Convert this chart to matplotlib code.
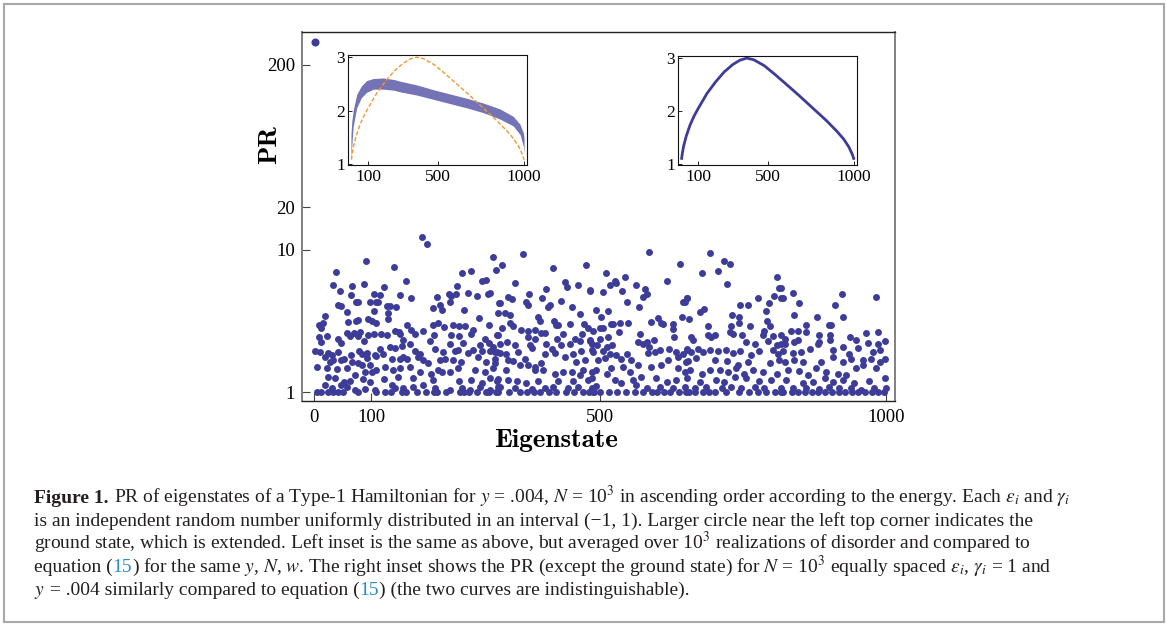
import matplotlib
matplotlib.use('Agg')
import matplotlib.pyplot as plt
from matplotlib.patches import Rectangle

plt.rcParams['font.family'] = ['Liberation Serif', 'DejaVu Serif']
plt.rcParams['mathtext.fontset'] = 'stix'

# ---------------- data ----------------
ground_state = (2, 290.0)

# (eigenstate index, PR)
states = [
    # 0 - 160
    (38, 6.93), (33, 5.69), (45, 5.14), (67, 5.6), (88, 5.73), (91, 8.4), (122, 5.51), (140, 7.57),
    (104, 4.90), (115, 4.84), (150, 4.80), (65, 4.82), (73, 4.29), (76, 4.29), (97, 4.33), (108, 4.31),
    (112, 4.29), (42, 4.10), (47, 4.02), (128, 4.02), (133, 4.04), (144, 3.97), (57, 3.65), (105, 3.71),
    (130, 3.61), (19, 3.40), (8, 2.97), (15, 3.05), (13, 2.82), (59, 3.10), (74, 3.14), (77, 3.22),
    (95, 3.27), (101, 3.17), (109, 3.07), (129, 3.27), (8, 2.43), (12, 2.25), (23, 2.49), (42, 2.37),
    (47, 2.21), (57, 2.60), (62, 2.49), (69, 2.60), (76, 2.47), (80, 2.64), (87, 2.29), (94, 2.51),
    (105, 2.56), (117, 2.55), (127, 2.51), (141, 2.67), (148, 2.64), (2, 1.94), (10, 1.91), (25, 1.88),
    (31, 1.83), (42, 1.91), (53, 1.72), (65, 1.82), (79, 1.95), (83, 1.85), (93, 1.88), (106, 1.82),
    (115, 2.0), (121, 1.86), (133, 2.07), (141, 2.05), (153, 2.11), (19, 1.77), (28, 1.63), (34, 1.67),
    (48, 1.67), (66, 1.63), (76, 1.61), (92, 1.74), (98, 1.56), (109, 1.79), (136, 1.72), (150, 1.70),
    (5, 1.50), (23, 1.47), (40, 1.45), (57, 1.47), (83, 1.55), (89, 1.39), (101, 1.39), (109, 1.42),
    (124, 1.50), (138, 1.43), (150, 1.47), (25, 1.28), (37, 1.26), (53, 1.18), (63, 1.19), (72, 1.32),
    (86, 1.23), (98, 1.18), (122, 1.23), (136, 1.12), (147, 1.28), (20, 1.12), (31, 1.06), (48, 1.12),
    (57, 1.09), (72, 1.03), (89, 1.05), (106, 1.04), (141, 1.06),
    (5, 1.0), (13, 1.0), (25, 1.0), (34, 1.0), (42, 1.0), (51, 1.0), (77, 1.0), (109, 1.0), (124, 1.0),
    (134, 1.0), (153, 1.0),
    # 150 - 325
    (188, 12.4), (198, 11.0), (312, 8.97), (161, 6.0), (258, 6.87), (275, 7.05), (293, 6.07), (300, 6.13),
    (318, 7.2), (250, 5.6), (236, 4.92), (240, 4.76), (248, 4.9), (214, 4.65), (170, 4.57), (269, 4.95),
    (285, 4.74), (304, 4.9), (307, 4.98), (220, 4.1), (207, 3.93), (224, 3.8), (237, 4.33), (262, 3.78),
    (289, 3.31), (323, 4.22), (162, 2.97), (169, 2.75), (176, 2.57), (191, 2.67), (208, 2.97), (217, 3.07),
    (227, 2.86), (242, 2.97), (254, 2.91), (264, 2.9), (278, 2.75), (305, 2.94), (150, 2.57), (155, 2.31),
    (210, 2.53), (240, 2.51), (254, 2.48), (274, 2.55), (298, 2.35), (202, 2.28), (319, 2.53), (168, 2.19),
    (237, 2.19), (261, 2.22), (290, 2.13), (306, 2.22), (313, 2.07), (176, 1.94), (185, 1.86), (211, 2.02),
    (226, 1.91), (246, 1.94), (252, 1.97), (269, 1.89), (278, 1.97), (294, 1.94), (307, 1.94), (319, 1.91),
    (155, 1.77), (162, 1.72), (182, 1.77), (191, 1.69), (200, 1.61), (220, 1.67), (229, 1.72), (243, 1.67),
    (257, 1.63), (287, 1.77), (300, 1.63), (316, 1.72), (168, 1.50), (185, 1.39), (217, 1.43),
    (237, 1.39), (252, 1.47), (281, 1.43), (298, 1.39), (313, 1.47), (205, 1.35), (173, 1.25), (208, 1.21),
    (223, 1.38), (254, 1.19), (275, 1.21), (293, 1.15), (307, 1.26), (322, 1.24), (156, 1.06), (173, 1.09),
    (191, 1.12), (211, 1.06), (237, 1.03), (258, 1.07), (272, 1.04), (290, 1.09), (307, 1.03), (322, 1.09),
    (160, 1.0), (180, 1.0), (195, 1.0), (210, 1.0), (215, 1.0), (230, 1.0), (255, 1.0), (262, 1.0),
    (270, 1.0), (285, 1.0), (300, 1.0), (305, 1.0), (318, 1.0),
    # 315 - 490
    (365, 9.38), (417, 7.45), (476, 7.76), (329, 7.76), (351, 5.82), (406, 5.31), (438, 5.97),
    (442, 5.51), (461, 5.66), (482, 5.22), (376, 4.9), (339, 4.65), (346, 4.52), (399, 4.57), (431, 4.4),
    (371, 4.33), (325, 4.22), (373, 4.06), (409, 3.95), (413, 4.06), (451, 3.99), (322, 3.59), (334, 3.61),
    (343, 3.49), (464, 3.51), (392, 3.37), (394, 3.18), (419, 3.18), (426, 2.97), (447, 2.99), (472, 2.99),
    (479, 2.83), (342, 3.05), (347, 2.9), (362, 2.74), (373, 2.67), (386, 2.72), (397, 2.61), (403, 2.61),
    (422, 2.97), (435, 2.57), (328, 2.82), (321, 2.53), (374, 2.44), (386, 2.37), (425, 2.37), (456, 2.37),
    (468, 2.57), (482, 2.31), (338, 2.25), (351, 2.13), (325, 2.19), (377, 2.13), (406, 2.16), (416, 2.02),
    (431, 2.13), (447, 2.19), (464, 2.27), (485, 2.19), (316, 1.91), (325, 1.88), (335, 1.86), (357, 1.91),
    (380, 2.05), (403, 1.86), (421, 1.88), (453, 1.86), (466, 1.94), (485, 1.97), (339, 1.69), (348, 1.65),
    (368, 1.72), (386, 1.5), (397, 1.61), (438, 1.77), (458, 1.63), (473, 1.67), (374, 1.56), (360, 1.55),
    (316, 1.61), (336, 1.43), (386, 1.43), (400, 1.43), (421, 1.35), (435, 1.39), (450, 1.39), (470, 1.43),
    (485, 1.39), (319, 1.2), (339, 1.21), (354, 1.19), (371, 1.15), (392, 1.19), (426, 1.19), (453, 1.2),
    (464, 1.32), (479, 1.21), (325, 1.09), (351, 1.06), (380, 1.05), (403, 1.07), (418, 1.09), (444, 1.06),
    (461, 1.09), (485, 1.07),
    (322, 1.0), (340, 1.0), (360, 1.0), (372, 1.0), (385, 1.0), (395, 1.0), (410, 1.0), (423, 1.0),
    (440, 1.0), (455, 1.0), (470, 1.0), (480, 1.0), (488, 1.0),
    # 480 - 655
    (585, 9.58), (639, 7.98), (510, 6.9), (543, 6.4), (525, 6.07), (528, 5.8), (517, 5.66), (563, 5.66),
    (579, 5.31), (616, 6.07), (482, 5.16), (504, 5.03), (538, 5.1), (581, 4.9), (575, 4.65), (547, 4.29),
    (567, 3.97), (645, 4.29), (652, 4.57), (492, 3.8), (513, 3.74), (501, 3.37), (601, 3.31), (606, 3.07),
    (610, 3.02), (643, 3.38), (518, 3.02), (523, 2.99), (534, 3.05), (549, 3.05), (588, 3.1), (627, 2.99),
    (627, 2.79), (505, 2.82), (499, 2.82), (488, 2.67), (533, 2.64), (569, 2.57), (629, 2.44), (499, 2.37),
    (514, 2.44), (482, 2.28), (566, 2.25), (575, 2.19), (581, 2.25), (594, 2.31), (520, 2.15), (511, 2.07),
    (495, 2.13), (586, 2.07), (620, 2.02), (651, 2.02), (584, 1.89), (595, 1.92), (604, 1.97), (488, 1.91),
    (505, 1.94), (517, 1.86), (528, 1.83), (546, 1.86), (633, 1.91), (645, 1.86), (496, 1.67), (508, 1.74),
    (537, 1.72), (554, 1.67), (619, 1.67), (636, 1.77), (650, 1.63), (493, 1.43), (519, 1.47), (540, 1.5),
    (552, 1.39), (566, 1.55), (589, 1.5), (607, 1.55), (636, 1.47), (648, 1.39), (485, 1.25), (511, 1.34),
    (525, 1.21), (557, 1.21), (572, 1.28), (598, 1.25), (616, 1.18), (633, 1.21), (493, 1.1), (537, 1.15),
    (563, 1.12), (581, 1.06), (604, 1.09), (627, 1.07), (648, 1.09),
    (490, 1.0), (500, 1.0), (515, 1.0), (530, 1.0), (545, 1.0), (560, 1.0), (575, 1.0), (590, 1.0),
    (600, 1.0), (612, 1.0), (622, 1.0), (638, 1.0), (650, 1.0),
    # 645 - 820
    (691, 9.5), (716, 8.37), (727, 7.94), (706, 7.13), (677, 6.82), (722, 5.75), (809, 6.47), (812, 5.37),
    (652, 4.57), (648, 4.33), (776, 4.59), (803, 4.72), (816, 4.59), (795, 4.22), (758, 4.12), (745, 4.06),
    (682, 3.85), (674, 3.65), (790, 3.72), (655, 3.27), (730, 3.46), (742, 3.37), (792, 3.14), (689, 2.9),
    (729, 2.9), (761, 2.91), (796, 2.9), (742, 3.05), (787, 2.67), (726, 2.64), (732, 2.57), (694, 2.44),
    (700, 2.51), (688, 2.51), (747, 2.51), (659, 2.44), (784, 2.51), (802, 2.46), (816, 2.53), (662, 2.31),
    (755, 2.25), (770, 2.19), (793, 2.27), (808, 2.13), (822, 2.19), (651, 1.97), (659, 1.91), (671, 2.0),
    (679, 1.91), (691, 1.97), (706, 1.94), (720, 1.97), (732, 1.89), (744, 1.94), (764, 1.82), (778, 1.94),
    (802, 1.97), (810, 1.86), (653, 1.65), (668, 1.74), (700, 1.67), (722, 1.65), (741, 1.55), (758, 1.63),
    (796, 1.6), (813, 1.67), (656, 1.43), (677, 1.35), (691, 1.43), (709, 1.43), (723, 1.39), (738, 1.47),
    (752, 1.35), (767, 1.43), (784, 1.39), (808, 1.35), (651, 1.25), (674, 1.18), (703, 1.21), (717, 1.18),
    (735, 1.28), (755, 1.25), (778, 1.19), (799, 1.21), (665, 1.06), (685, 1.09), (712, 1.06), (729, 1.09),
    (746, 1.06), (770, 1.09), (787, 1.06), (816, 1.07),
    (655, 1.0), (665, 1.0), (680, 1.0), (690, 1.0), (700, 1.0), (720, 1.0), (742, 1.0), (760, 1.0),
    (775, 1.0), (790, 1.0), (805, 1.0), (815, 1.0),
    # 815 - 1000
    (837, 4.95), (816, 5.37), (819, 4.6), (922, 4.9), (982, 4.69), (848, 4.22), (911, 4.1), (839, 3.46),
    (879, 3.37), (924, 3.37), (860, 2.97), (900, 2.97), (903, 2.94), (834, 2.67), (845, 2.67), (859, 2.64),
    (883, 2.51), (901, 2.53), (937, 2.44), (965, 2.62), (986, 2.64), (822, 2.37), (839, 2.25), (845, 2.31),
    (883, 2.25), (901, 2.31), (947, 2.33), (967, 2.22), (985, 2.19), (997, 2.27), (816, 2.16), (880, 2.16),
    (924, 2.07), (950, 2.04), (819, 1.94), (837, 1.88), (851, 1.91), (866, 2.02), (906, 1.97), (935, 1.86),
    (976, 1.91), (988, 1.97), (822, 1.63), (839, 1.67), (854, 1.63), (886, 1.63), (906, 1.77), (924, 1.63),
    (938, 1.72), (959, 1.67), (973, 1.72), (988, 1.63), (997, 1.72), (828, 1.43), (848, 1.41), (863, 1.32),
    (877, 1.47), (895, 1.39), (915, 1.35), (930, 1.32), (947, 1.47), (959, 1.55), (982, 1.47), (825, 1.21),
    (854, 1.15), (871, 1.18), (892, 1.25), (906, 1.18), (924, 1.21), (944, 1.15), (970, 1.19), (997, 1.25),
    (837, 1.06), (860, 1.07), (883, 1.05), (900, 1.09), (918, 1.06), (938, 1.06), (956, 1.03), (979, 1.06),
    (1000, 1.07),
    (820, 1.0), (835, 1.0), (845, 1.0), (858, 1.0), (870, 1.0), (880, 1.0), (893, 1.0), (905, 1.0),
    (917, 1.0), (928, 1.0), (940, 1.0), (950, 1.0), (962, 1.0), (975, 1.0), (985, 1.0), (995, 1.0),
]

main_xticks = [0, 100, 500, 1000]
main_yticks = [1, 10, 20, 200]

# equation (15) curve (used in both insets)
eq15_x = [3, 8, 15, 30, 52, 75, 100, 150, 200, 250, 300, 340, 380, 420, 480, 540, 600, 680, 760,
          840, 900, 940, 970, 990, 1000]
eq15_y = [1.08, 1.2, 1.33, 1.52, 1.73, 1.9, 2.05, 2.33, 2.55, 2.74, 2.88, 2.96, 3.0, 2.97, 2.86,
          2.70, 2.53, 2.30, 2.06, 1.82, 1.62, 1.47, 1.32, 1.18, 1.08]

# left inset: disorder-averaged PR band (upper / lower envelope)
avg_x = [0, 5, 13, 33, 60, 90, 130, 187, 250, 283, 380, 476, 572, 669, 765, 861, 938, 977, 996, 1000]
avg_hi = [1.55, 1.8, 2.0, 2.3, 2.46, 2.56, 2.6, 2.61, 2.58, 2.55, 2.48, 2.39, 2.31, 2.23, 2.14, 2.03,
          1.89, 1.74, 1.58, 1.5]
avg_lo = [1.1, 1.35, 1.7, 2.05, 2.24, 2.34, 2.4, 2.40, 2.38, 2.35, 2.29, 2.21, 2.13, 2.05, 1.96, 1.84,
          1.71, 1.55, 1.33, 1.2]

inset_xticks = [100, 500, 1000]
inset_yticks = [1, 2, 3]

# ---------------- figure ----------------
W, H = 1168, 628
fig = plt.figure(figsize=(W / 100, H / 100), dpi=100)


def fx(px):
    return px / W


def fy(py):
    return 1 - py / H


BLUE = '#3d3d99'
ORANGE = '#f2982e'

ax = fig.add_axes([fx(302), fy(401), fx(895) - fx(302), fy(32) - fy(401)])
xs = [s[0] for s in states]
ys = [s[1] for s in states]
ax.scatter(xs, ys, s=25, color=BLUE, linewidths=0, zorder=3)
ax.scatter([ground_state[0]], [ground_state[1]], s=34, color=BLUE, linewidths=0, zorder=3)
ax.set_yscale('log')
ax.set_xlim(-21, 1015)
ax.set_ylim(0.865, 340)
ax.set_xticks(main_xticks)
ax.set_xticklabels([str(v) for v in main_xticks])
ax.set_yticks(main_yticks)
ax.set_yticklabels([str(v) for v in main_yticks])
ax.minorticks_off()
ax.tick_params(axis='both', direction='in', length=6, width=0.8, color='#444444', labelsize=13.5)
ax.tick_params(axis='x', pad=6)
ax.tick_params(axis='y', pad=5)
for side in ['left', 'right']:
    ax.spines[side].set_color('#808080')
    ax.spines[side].set_linewidth(1.4)
for side in ['top', 'bottom']:
    ax.spines[side].set_color('#222222')
    ax.spines[side].set_linewidth(1.0)

fig.text(fx(270), fy(145), 'PR', rotation=90, fontsize=19.5, family='cmb10',
         ha='center', va='center')
fig.text(fx(556), fy(447), 'Eigenstate', fontsize=19.5, family='cmb10', ha='center', va='baseline')


def style_inset(a):
    a.set_xlim(-17, 1017)
    a.set_ylim(0.98, 3.04)
    a.set_xticks(inset_xticks)
    a.set_xticklabels([str(v) for v in inset_xticks])
    a.set_yticks(inset_yticks)
    a.set_yticklabels([str(v) for v in inset_yticks])
    a.tick_params(axis='both', direction='in', length=3, width=0.6, labelsize=12.5)
    a.tick_params(axis='x', pad=3)
    a.tick_params(axis='y', pad=2)
    for sp in a.spines.values():
        sp.set_linewidth(0.8)
        sp.set_color('#111111')


ins1 = fig.add_axes([fx(348), fy(165), fx(527) - fx(348), fy(55) - fy(165)])
ins1.fill_between(avg_x, avg_lo, avg_hi, color=BLUE, alpha=0.72, linewidth=0)
ins1.plot(eq15_x, eq15_y, color=ORANGE, lw=1.0, dashes=(3, 1.5))
style_inset(ins1)

ins2 = fig.add_axes([fx(678), fy(165), fx(857) - fx(678), fy(56) - fy(165)])
ins2.plot(eq15_x, eq15_y, color=ORANGE, lw=1.0, dashes=(3, 1.5))
ins2.plot(eq15_x, eq15_y, color=BLUE, lw=2.0, solid_capstyle='butt')
style_inset(ins2)

# border
fig.patches.append(Rectangle((fx(4), fy(622)), fx(1164) - fx(4), fy(4) - fy(622),
                             transform=fig.transFigure, fill=False, edgecolor='#a8a8a8', lw=1.5))

# ---------------- caption ----------------
LINK = '#2a8cc8'
TXT = '#231f20'
GAP = None  # marker for a word space between segments
cap_lines = [
    [("Figure 1.", {'weight': 'bold'}), GAP,
     ("PR of eigenstates of a Type-1 Hamiltonian for $y$ = .004, $N$ = 10$^3$ in ascending order "
      "according to the energy. Each $\\epsilon_i$ and $\\gamma_i$", {})],
    [("is an independent random number uniformly distributed in an interval (\u22121, 1). Larger circle "
      "near the left top corner indicates the", {})],
    [("ground state, which is extended. Left inset is the same as above, but averaged over 10$^3$ "
      "realizations of disorder and compared to", {})],
    [("equation (", {}), ("15", {'color': LINK}),
     (") for the same $y$, $N$, $w$. The right inset shows the PR (except the ground state) for "
      "$N$ = 10$^3$ equally spaced $\\epsilon_i$, $\\gamma_i$ = 1 and", {})],
    [("$y$", {}), (" = .004 similarly compared to equation (", {}), ("15", {'color': LINK}),
     (") (the two curves are indistinguishable).", {})],
]
baselines = [503, 526, 549, 572, 595]
x_left = 34
CAP_FS = 14.0

renderer = fig.canvas.get_renderer()


def draw_line(segs, y, fs):
    em = fs * 100 / 72 / W
    x = fx(x_left)
    for seg in segs:
        if seg is GAP:
            x += 0.27 * em
            continue
        s, props = seg
        p = {'color': TXT}
        p.update(props)
        t = fig.text(x, fy(y), s, fontsize=fs, va='baseline', ha='left', **p)
        x += t.get_window_extent(renderer).width / W


for segs, y in zip(cap_lines, baselines):
    draw_line(segs, y, CAP_FS)

fig.savefig('out.png', dpi=100)
